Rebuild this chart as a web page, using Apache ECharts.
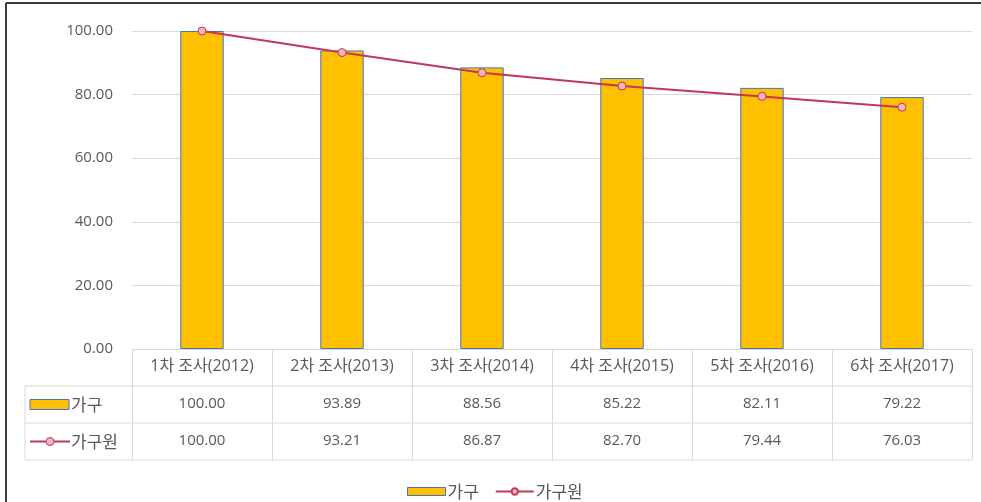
<!DOCTYPE html>
<html>
<head>
<meta charset="utf-8">
<script src="https://cdn.jsdelivr.net/npm/echarts@6/dist/echarts.min.js"></script>
<style>
  html, body { margin: 0; padding: 0; background: #fff; }
  #chart { width: 981px; height: 502px; }
</style>
</head>
<body>
<div id="chart"></div>
<script>
// Survey waves and indices (2012 = 100)
const categories = ['1차 조사(2012)', '2차 조사(2013)', '3차 조사(2014)', '4차 조사(2015)', '5차 조사(2016)', '6차 조사(2017)'];
const households = [100.00, 93.89, 88.56, 85.22, 82.11, 79.22];
const members = [100.00, 93.21, 86.87, 82.70, 79.44, 76.03];
const seriesNames = ['가구', '가구원'];
const yTicks = { min: 0, max: 100, interval: 20 };

const FONT = '"Open Sans", "Noto Sans CJK KR", sans-serif';
const KFONT = '"Noto Sans CJK KR", sans-serif';
const TEXT = '#595959';
const GRIDLINE = '#d9d9d9';
const BAR_FILL = '#FFC000';
const BAR_EDGE = '#4472C4';
const LINE = '#C0385A';
const MARK = '#F4B6BF';

// plot / table geometry
const G = { left: 132, right: 9, top: 31, bottom: 153 };
const W = 981, H = 502;
const axisY = H - G.bottom;           // y of the category axis
const rowH = 37;                      // data-table row height
const tableLeft = 25;
const tableRight = W - G.right;

const chart = echarts.init(document.getElementById('chart'), null, { renderer: 'canvas' });

const tableLines = [];
// horizontal rules of the data table
for (let r = 1; r <= 3; r++) {
  const y = axisY + rowH * r;
  tableLines.push({
    type: 'line', silent: true,
    shape: { x1: tableLeft, y1: y, x2: tableRight, y2: y },
    style: { stroke: GRIDLINE, lineWidth: 1 }
  });
}
// left edge of the row-header column
tableLines.push({
  type: 'line', silent: true,
  shape: { x1: tableLeft, y1: axisY + rowH, x2: tableLeft, y2: axisY + rowH * 3 },
  style: { stroke: GRIDLINE, lineWidth: 1 }
});

const rowHeaders = [
  // bar key
  { type: 'rect', silent: true,
    shape: { x: 30, y: axisY + rowH * 1.5 - 5, width: 39, height: 10 },
    style: { fill: BAR_FILL, stroke: BAR_EDGE, lineWidth: 1 } },
  { type: 'text', silent: true,
    style: { x: 71, y: axisY + rowH * 1.5, text: seriesNames[0], fill: TEXT, font: '17px ' + KFONT, textVerticalAlign: 'middle' } },
  // line key
  { type: 'line', silent: true,
    shape: { x1: 30, y1: axisY + rowH * 2.5, x2: 70, y2: axisY + rowH * 2.5 },
    style: { stroke: LINE, lineWidth: 2 } },
  { type: 'circle', silent: true,
    shape: { cx: 50, cy: axisY + rowH * 2.5, r: 4 },
    style: { fill: MARK, stroke: LINE, lineWidth: 1 } },
  { type: 'text', silent: true,
    style: { x: 71, y: axisY + rowH * 2.5, text: seriesNames[1], fill: TEXT, font: '17px ' + KFONT, textVerticalAlign: 'middle' } }
];

const frame = [
  { type: 'line', silent: true, shape: { x1: 6, y1: 3, x2: 6, y2: H }, style: { stroke: '#3a3a3a', lineWidth: 2 } },
  { type: 'line', silent: true, shape: { x1: 6, y1: 3, x2: W, y2: 3 }, style: { stroke: '#3a3a3a', lineWidth: 2 } }
];

const valueRowAxis = (values, offset) => ({
  type: 'category',
  data: values.map(v => v.toFixed(2)),
  position: 'bottom',
  offset: offset,
  axisLine: { show: false },
  axisTick: { show: false },
  axisLabel: { color: TEXT, fontFamily: FONT, fontSize: 15, margin: 10, interval: 0 }
});

chart.setOption({
  animation: false,
  textStyle: { fontFamily: FONT },
  grid: { left: G.left, right: G.right, top: G.top, bottom: G.bottom, containLabel: false },
  legend: {
    data: [
      { name: seriesNames[0], icon: 'rect', itemStyle: { color: BAR_FILL, borderColor: BAR_EDGE, borderWidth: 1 } },
      { name: seriesNames[1] }
    ],
    left: 402, top: 478,
    itemWidth: 38, itemHeight: 8, itemGap: 16,
    textStyle: { color: TEXT, fontSize: 17, fontFamily: KFONT, padding: [0, 0, 0, -3] },
    selectedMode: false
  },
  xAxis: [
    {
      type: 'category',
      data: categories,
      axisLine: { lineStyle: { color: GRIDLINE } },
      axisTick: { show: true, length: rowH * 3, lineStyle: { color: GRIDLINE } },
      axisLabel: { color: TEXT, fontFamily: FONT, fontSize: 16, margin: 9, interval: 0 }
    },
    valueRowAxis(households, rowH),
    valueRowAxis(members, rowH * 2)
  ],
  yAxis: {
    type: 'value',
    min: yTicks.min, max: yTicks.max, interval: yTicks.interval,
    axisLine: { show: false },
    axisTick: { show: false },
    axisLabel: { color: TEXT, fontFamily: FONT, fontSize: 15, margin: 19, formatter: v => v.toFixed(2) },
    splitLine: { lineStyle: { color: GRIDLINE } }
  },
  series: [
    {
      name: seriesNames[0], type: 'bar', data: households, barWidth: '31%',
      itemStyle: { color: BAR_FILL, borderColor: BAR_EDGE, borderWidth: 1 }
    },
    {
      name: seriesNames[1], type: 'line', data: members,
      symbol: 'circle', symbolSize: 8,
      lineStyle: { color: LINE, width: 2 },
      itemStyle: { color: MARK, borderColor: LINE, borderWidth: 1 }
    }
  ],
  graphic: [...tableLines, ...rowHeaders, ...frame]
});
</script>
</body>
</html>
